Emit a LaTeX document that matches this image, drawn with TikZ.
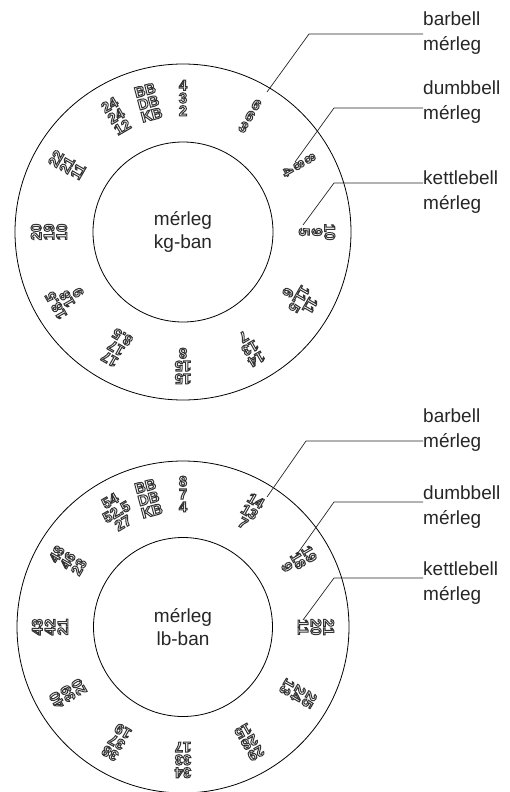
\documentclass[tikz,border=0pt]{standalone}
\usepackage{fontspec}
\setmainfont{Liberation Sans}
\usetikzlibrary{calc}
\newcommand\olt[1]{\special{pdf:literal direct 1 Tr 1 w}#1\special{pdf:literal direct 0 Tr}}
\newcommand\ent[3]{\olt{#1}\\\olt{#2}\\\olt{#3}}
\tikzset{
  ring/.style={circle, draw=black, line width=0.8pt, inner sep=0pt},
  entry/.style={text=black!80, align=center, inner sep=0pt,
    font=\fontsize{14.8}{12.8}\selectfont\bfseries},
  lbl/.style={anchor=north west, align=left, inner sep=0pt, text=black!85,
    font=\fontsize{19}{25}\selectfont},
  ctr/.style={align=center, text=black!85, font=\fontsize{19}{23}\selectfont},
  callout/.style={draw=black!85, line width=0.7pt}
}
\begin{document}
\begin{tikzpicture}[x=1pt,y=-1pt]
\useasboundingbox (0,0) rectangle (510,792);
% ---------- top dial (kg) ----------
\coordinate (c1) at (183,232);
\node[ring, minimum size=336pt] (outer1) at (c1) {};
\node[ring, minimum size=180pt, ctr] (inner1) at (c1) {mérleg\\kg-ban};
\foreach \a/\p/\q/\r in {90/4/3/2, 105/BB/DB/KB, 120/24/24/12, 150/22/21/11,
  180/20/19/10, 210/18.5/18/9, 240/17/17/8.5, 270/15/15/8, 300/14/13/7,
  330/11/11.5/6, 0/10/9/5, 30/8/8/4, 60/6/6/3}
  \node[entry, rotate=\a-90] (k\a) at ($(c1)+(\a:134pt)$) {\ent{\p}{\q}{\r}};
\node[lbl] (kbar) at (423,12) {barbell\\mérleg};
\node[lbl] (kdum) at (423,81) {dumbbell\\mérleg};
\node[lbl] (kket) at (423,171) {kettlebell\\mérleg};
\coordinate (kbarE) at (267,92);  \coordinate (kbarC) at (309,34);
\coordinate (kdumE) at (295,162); \coordinate (kdumC) at (334,108);
\coordinate (kketE) at (303,225); \coordinate (kketC) at (334,183);
\draw[callout] (kbarE) -- (kbarC) -- (kbarC -| kbar.west);
\draw[callout] (kdumE) -- (kdumC) -- (kdumC -| kdum.west);
\draw[callout] (kketE) -- (kketC) -- (kketC -| kket.west);
% ---------- bottom dial (lb) ----------
\coordinate (c2) at (183,627);
\node[ring, minimum size=332pt] (outer2) at (c2) {};
\node[ring, minimum size=179pt, ctr] (inner2) at (c2) {mérleg\\lb-ban};
\foreach \a/\p/\q/\r in {90/8/7/4, 105/BB/DB/KB, 120/54/52.5/27, 150/48/46/23,
  180/43/42/21, 210/40/39/20, 240/38/37/19, 270/34/33/17, 300/29/28/15,
  330/25/24/13, 0/21/20/11, 30/19/18/9, 60/14/13/7}
  \node[entry, rotate=\a-90] (l\a) at ($(c2)+(\a:133pt)$) {\ent{\p}{\q}{\r}};
\node[lbl] (lbar) at (423,409) {barbell\\mérleg};
\node[lbl] (ldum) at (423,486) {dumbbell\\mérleg};
\node[lbl] (lket) at (423,562) {kettlebell\\mérleg};
\coordinate (lbarE) at (267,497); \coordinate (lbarC) at (306,441);
\coordinate (ldumE) at (295,557); \coordinate (ldumC) at (334,502);
\coordinate (lketE) at (303,620); \coordinate (lketC) at (334,578);
\draw[callout] (lbarE) -- (lbarC) -- (lbarC -| lbar.west);
\draw[callout] (ldumE) -- (ldumC) -- (ldumC -| ldum.west);
\draw[callout] (lketE) -- (lketC) -- (lketC -| lket.west);
\end{tikzpicture}
\end{document}
